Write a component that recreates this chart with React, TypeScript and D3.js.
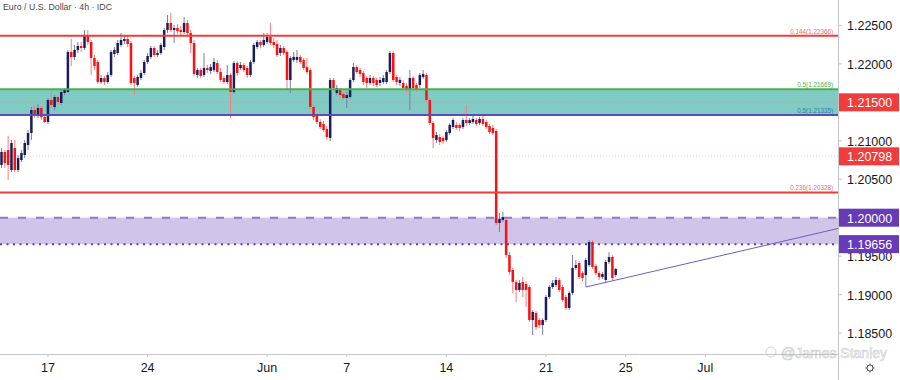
import React from 'react';
import * as d3 from 'd3';

const W = 900;
const H = 380;
const PLOT_RIGHT = 838;
const PLOT_BOTTOM = 354;

const candleStart = Date.UTC(2021, 4, 12, 16);

const opens = [
  1.20685, 1.20854, 1.20880, 1.20620, 1.20906, 1.20620, 1.20750, 1.20815, 1.20945, 1.21101,
  1.21400, 1.21335, 1.21426, 1.21309, 1.21244, 1.21530, 1.21439, 1.21569, 1.21491, 1.21621,
  1.21634, 1.22154, 1.22089, 1.22180, 1.22232, 1.22206, 1.22362, 1.22284, 1.22076, 1.22024,
  1.21764, 1.21816, 1.21764, 1.21855, 1.22128, 1.22141, 1.22245, 1.22297, 1.22323, 1.22271,
  1.21816, 1.21725, 1.21816, 1.21881, 1.22024, 1.22089, 1.22206, 1.22115, 1.22141, 1.22219,
  1.22440, 1.22531, 1.22440, 1.22466, 1.22440, 1.22414, 1.22531, 1.22401, 1.22271, 1.21855,
  1.21920, 1.21855, 1.21946, 1.21907, 1.21920, 1.22011, 1.21894, 1.21816, 1.21764, 1.21855,
  1.21634, 1.22011, 1.21946, 1.21985, 1.21946, 1.21855, 1.22024, 1.22219, 1.22284, 1.22245,
  1.22284, 1.22349, 1.22284, 1.22258, 1.22141, 1.22206, 1.22154, 1.21790, 1.22050, 1.22050,
  1.22089, 1.22050, 1.21959, 1.21920, 1.21439, 1.21322, 1.21244, 1.21218, 1.21153, 1.21036,
  1.21790, 1.21621, 1.21660, 1.21608, 1.21556, 1.21569, 1.21790, 1.21959, 1.21920, 1.21881,
  1.21816, 1.21751, 1.21816, 1.21790, 1.21751, 1.21764, 1.21764, 1.21894, 1.22141, 1.21829,
  1.21751, 1.21751, 1.21712, 1.21660, 1.21816, 1.21725, 1.21725, 1.21829, 1.21855, 1.21530,
  1.21231, 1.21010, 1.21049, 1.21036, 1.21010, 1.21101, 1.21179, 1.21205, 1.21205, 1.21179,
  1.21270, 1.21231, 1.21244, 1.21270, 1.21231, 1.21283, 1.21244, 1.21192, 1.21166, 1.21127,
  1.19931, 1.19970, 1.19970, 1.19515, 1.19320, 1.19164, 1.19060, 1.19164, 1.19138, 1.19099,
  1.18670, 1.18761, 1.18670, 1.18605, 1.18670, 1.18969, 1.19099, 1.19125, 1.19190, 1.19099,
  1.18969, 1.18826, 1.19021, 1.19346, 1.19411, 1.19281, 1.19255, 1.19385, 1.19684, 1.19372,
  1.19281, 1.19229, 1.19190, 1.19424, 1.19489, 1.19255,
];

const highs = [
  1.20906, 1.20880, 1.21062, 1.21010, 1.21010, 1.20815, 1.20880, 1.21010, 1.21140, 1.21439,
  1.21465, 1.21478, 1.21452, 1.21335, 1.21556, 1.21673, 1.21595, 1.21595, 1.21660, 1.21686,
  1.22180, 1.22323, 1.22245, 1.22284, 1.22284, 1.22440, 1.22440, 1.22310, 1.22115, 1.22050,
  1.21855, 1.21842, 1.21894, 1.22180, 1.22219, 1.22310, 1.22401, 1.22375, 1.22362, 1.22297,
  1.21842, 1.21855, 1.21920, 1.22050, 1.22141, 1.22232, 1.22232, 1.22180, 1.22271, 1.22466,
  1.22635, 1.22661, 1.22505, 1.22518, 1.22492, 1.22609, 1.22570, 1.22440, 1.22310, 1.21946,
  1.21946, 1.22141, 1.21985, 1.21998, 1.22076, 1.22050, 1.21946, 1.21842, 1.21985, 1.21881,
  1.22037, 1.22037, 1.22024, 1.22011, 1.21972, 1.22050, 1.22271, 1.22310, 1.22310, 1.22401,
  1.22401, 1.22531, 1.22336, 1.22310, 1.22245, 1.22232, 1.22180, 1.22102, 1.22154, 1.22180,
  1.22115, 1.22076, 1.22076, 1.21946, 1.21478, 1.21348, 1.21283, 1.21257, 1.21192, 1.21816,
  1.21816, 1.21725, 1.21686, 1.21634, 1.21634, 1.21816, 1.22011, 1.21985, 1.21946, 1.21907,
  1.21842, 1.21855, 1.21842, 1.21816, 1.21829, 1.21855, 1.21920, 1.22167, 1.22167, 1.21855,
  1.21829, 1.21790, 1.21751, 1.21920, 1.21842, 1.21751, 1.21881, 1.21920, 1.21881, 1.21556,
  1.21257, 1.21114, 1.21088, 1.21062, 1.21140, 1.21231, 1.21296, 1.21244, 1.21231, 1.21296,
  1.21465, 1.21296, 1.21322, 1.21296, 1.21309, 1.21348, 1.21270, 1.21218, 1.21205, 1.21153,
  1.20061, 1.20074, 1.20009, 1.19554, 1.19346, 1.19190, 1.19190, 1.19229, 1.19177, 1.19125,
  1.18800, 1.18787, 1.18696, 1.18696, 1.18995, 1.19125, 1.19190, 1.19229, 1.19216, 1.19125,
  1.18995, 1.19047, 1.19515, 1.19450, 1.19437, 1.19307, 1.19476, 1.19710, 1.19710, 1.19398,
  1.19307, 1.19294, 1.19450, 1.19554, 1.19515, 1.19346,
];

const lows = [
  1.20646, 1.20646, 1.20490, 1.20594, 1.20594, 1.20594, 1.20724, 1.20776, 1.20880, 1.21010,
  1.21296, 1.21296, 1.21270, 1.21231, 1.21218, 1.21426, 1.21400, 1.21465, 1.21465, 1.21595,
  1.21621, 1.21972, 1.22050, 1.22141, 1.22154, 1.22180, 1.22245, 1.21855, 1.21920, 1.21738,
  1.21738, 1.21725, 1.21738, 1.21829, 1.22089, 1.22115, 1.22219, 1.22258, 1.22219, 1.21725,
  1.21595, 1.21699, 1.21790, 1.21855, 1.21998, 1.22063, 1.22089, 1.22089, 1.22115, 1.22180,
  1.22401, 1.22414, 1.22271, 1.22388, 1.22375, 1.22388, 1.22375, 1.22141, 1.21842, 1.21816,
  1.21816, 1.21829, 1.21881, 1.21868, 1.21894, 1.21868, 1.21764, 1.21738, 1.21738, 1.21296,
  1.21608, 1.21842, 1.21920, 1.21894, 1.21816, 1.21829, 1.21998, 1.22193, 1.22206, 1.22219,
  1.22258, 1.22245, 1.22206, 1.22089, 1.22102, 1.22115, 1.21660, 1.21621, 1.22024, 1.22011,
  1.21998, 1.21920, 1.21868, 1.21413, 1.21270, 1.21218, 1.21153, 1.21114, 1.21010, 1.20997,
  1.21660, 1.21595, 1.21569, 1.21530, 1.21426, 1.21543, 1.21764, 1.21868, 1.21829, 1.21725,
  1.21686, 1.21725, 1.21712, 1.21699, 1.21712, 1.21738, 1.21738, 1.21868, 1.21764, 1.21725,
  1.21712, 1.21660, 1.21621, 1.21400, 1.21660, 1.21634, 1.21686, 1.21803, 1.21504, 1.21205,
  1.20906, 1.20971, 1.20945, 1.20958, 1.20984, 1.21075, 1.21153, 1.21140, 1.21127, 1.21153,
  1.21192, 1.21205, 1.21218, 1.21192, 1.21205, 1.21192, 1.21153, 1.21088, 1.21075, 1.19905,
  1.19814, 1.19944, 1.19476, 1.19255, 1.19021, 1.18904, 1.19034, 1.18969, 1.18839, 1.18644,
  1.18475, 1.18540, 1.18566, 1.18475, 1.18644, 1.18943, 1.19073, 1.19099, 1.19034, 1.18904,
  1.18800, 1.18800, 1.18995, 1.19320, 1.19203, 1.19177, 1.19099, 1.19359, 1.19333, 1.19255,
  1.19190, 1.19203, 1.19164, 1.19398, 1.19190, 1.19229,
];

const closes = [
  1.20854, 1.20711, 1.20685, 1.20971, 1.20620, 1.20776, 1.20841, 1.20971, 1.21101, 1.21400,
  1.21335, 1.21426, 1.21309, 1.21244, 1.21530, 1.21465, 1.21569, 1.21504, 1.21634, 1.21660,
  1.22154, 1.22089, 1.22180, 1.22232, 1.22206, 1.22362, 1.22284, 1.22076, 1.21972, 1.21764,
  1.21816, 1.21764, 1.21855, 1.22154, 1.22180, 1.22271, 1.22310, 1.22323, 1.22258, 1.21751,
  1.21751, 1.21829, 1.21881, 1.22024, 1.22102, 1.22206, 1.22115, 1.22141, 1.22245, 1.22440,
  1.22531, 1.22440, 1.22466, 1.22427, 1.22414, 1.22531, 1.22401, 1.22271, 1.21868, 1.21920,
  1.21842, 1.21946, 1.21920, 1.21959, 1.22024, 1.21894, 1.21790, 1.21764, 1.21855, 1.21634,
  1.22011, 1.21881, 1.21985, 1.21920, 1.21855, 1.22024, 1.22245, 1.22284, 1.22245, 1.22310,
  1.22349, 1.22271, 1.22245, 1.22115, 1.22206, 1.22141, 1.21790, 1.22076, 1.22089, 1.22089,
  1.22024, 1.21946, 1.21894, 1.21439, 1.21309, 1.21244, 1.21179, 1.21140, 1.21049, 1.21790,
  1.21686, 1.21686, 1.21595, 1.21556, 1.21595, 1.21790, 1.21959, 1.21894, 1.21868, 1.21764,
  1.21751, 1.21816, 1.21751, 1.21725, 1.21790, 1.21816, 1.21894, 1.22141, 1.21790, 1.21764,
  1.21790, 1.21686, 1.21660, 1.21816, 1.21686, 1.21660, 1.21855, 1.21868, 1.21530, 1.21231,
  1.21036, 1.21075, 1.20984, 1.20997, 1.21114, 1.21205, 1.21270, 1.21166, 1.21166, 1.21270,
  1.21231, 1.21270, 1.21283, 1.21218, 1.21283, 1.21218, 1.21179, 1.21114, 1.21101, 1.19931,
  1.19983, 1.20009, 1.19515, 1.19294, 1.19164, 1.19060, 1.19151, 1.19060, 1.19060, 1.18670,
  1.18774, 1.18579, 1.18605, 1.18670, 1.18969, 1.19099, 1.19151, 1.19190, 1.19060, 1.18930,
  1.18826, 1.19021, 1.19346, 1.19385, 1.19229, 1.19216, 1.19450, 1.19684, 1.19359, 1.19281,
  1.19229, 1.19268, 1.19424, 1.19489, 1.19216, 1.19333,
];

// x-axis ticks (dates, labels)
const tickDates = [
  Date.UTC(2021, 4, 17), Date.UTC(2021, 4, 24), Date.UTC(2021, 5, 1), Date.UTC(2021, 5, 7),
  Date.UTC(2021, 5, 14), Date.UTC(2021, 5, 21), Date.UTC(2021, 5, 25), Date.UTC(2021, 6, 1),
];
const tickLabels = ['17', '24', 'Jun', '7', '14', '21', '25', 'Jul'];

// price axis
const priceDomain = [1.18228, 1.2283];
const priceTicks = [1.185, 1.19, 1.195, 1.2, 1.205, 1.21, 1.215, 1.22, 1.225];

// fib levels
const fibPrices = [1.22366, 1.21669, 1.21335, 1.20328];
const fibRatios = ['0.144', '0.5', '0.5', '0.236'];

// zones
const tealZone = [1.21335, 1.21669];
const purpleZone = [1.19656, 1.2];

// axis badges
const badgePrices = [1.215, 1.20798, 1.2, 1.19656];
const faintLinePrices = [1.215, 1.20798];

// trendline anchors: [candle index, price]
const trendIdx = [176, 252];
const trendPrice = [1.19099, 1.1986];

const FONT = '"Liberation Sans", Arial, sans-serif';

function fmt5(p: number): string {
  const n = Math.round(p * 100000);
  return `${Math.floor(n / 100000)}.${String(n % 100000).padStart(5, '0')}`;
}

function tradingCalendar(start: number, count: number): number[] {
  const out: number[] = [];
  let t = start;
  while (out.length < count) {
    const wd = new Date(t).getUTCDay();
    if (wd !== 0 && wd !== 6) out.push(t);
    t += 4 * 3600 * 1000;
  }
  return out;
}

export default function App() {
  const calendar = tradingCalendar(candleStart, 300);
  const x = d3.scaleLinear().domain([0, 100]).range([1.5, 333.5]);
  const y = d3.scaleLinear().domain(priceDomain).range([PLOT_BOTTOM, 0]);

  const tickIdx = tickDates.map((t) => calendar.indexOf(t));

  const fibColors = ['#f26b6b', '#4caf50', '#2f7fa6', '#f26b6b'];
  const fibLineColors = ['#f23b3b', '#4caf50', '#5b4db3', '#f23b3b'];
  const badgeColors = ['#f23b3b', '#f23b3b', '#673ab7', '#673ab7'];

  const trendLine = d3.line<number>()
    .x((_, i) => x(trendIdx[i]))
    .y((d) => y(d));

  const bull = '#1b1c5c';
  const bear = '#ff1010';

  return (
    <svg width={W} height={H} style={{ position: 'absolute', left: 0, top: 0, background: '#fff' }} fontFamily={FONT}>
      <rect x={0} y={0} width={W} height={H} fill="#ffffff" />
      <defs>
        <clipPath id="plot">
          <rect x={0} y={0} width={PLOT_RIGHT} height={PLOT_BOTTOM} />
        </clipPath>
      </defs>

      <g clipPath="url(#plot)">
        <rect x={0} width={PLOT_RIGHT} y={y(tealZone[1])} height={y(tealZone[0]) - y(tealZone[1])} fill="#80cbc4" />
        <rect x={0} width={PLOT_RIGHT} y={y(purpleZone[1])} height={y(purpleZone[0]) - y(purpleZone[1])} fill="#d1c4e9" />

        {faintLinePrices.map((p, i) => (
          <line key={'f' + i} x1={0} x2={PLOT_RIGHT} y1={y(p)} y2={y(p)} stroke="#f08080" strokeOpacity={0.45} strokeWidth={1} strokeDasharray="1 2" />
        ))}

        {opens.map((o, i) => {
          const c = closes[i];
          const up = c >= o;
          const cx = x(i);
          const top = y(Math.max(o, c));
          const bot = y(Math.min(o, c));
          return (
            <g key={i}>
              <line x1={cx} x2={cx} y1={y(highs[i])} y2={y(lows[i])} stroke={up ? '#7c7ca8' : '#ff7a7a'} strokeWidth={1} />
              <rect x={cx - 1.25} width={2.5} y={top} height={Math.max(1, bot - top)} fill={up ? bull : bear} />
            </g>
          );
        })}

        <line x1={0} x2={PLOT_RIGHT} y1={y(purpleZone[1])} y2={y(purpleZone[1])} stroke="#8a7cc6" strokeWidth={2} strokeDasharray="8 10" />
        <line x1={0} x2={PLOT_RIGHT} y1={y(purpleZone[0])} y2={y(purpleZone[0])} stroke="#5e3fb0" strokeWidth={2} strokeDasharray="2 4.5" />

        {fibPrices.map((p, i) => (
          <line key={'fl' + i} x1={0} x2={PLOT_RIGHT} y1={y(p)} y2={y(p)} stroke={fibLineColors[i]} strokeWidth={2} />
        ))}
        {fibPrices.map((p, i) => (
          <text key={'ft' + i} x={833} y={y(p) - 2} textAnchor="end" fontSize={6.3} fill={fibColors[i]}>
            {`${fibRatios[i]}(${fmt5(p)})`}
          </text>
        ))}

        <path d={trendLine(trendPrice) || ''} stroke="#6a5fc8" strokeWidth={1} fill="none" />
      </g>

      <text x={3} y={9.5} fontSize={8.8} fill="#4a4a4a">Euro / U.S. Dollar · 4h · IDC</text>

      <line x1={0} x2={PLOT_RIGHT} y1={PLOT_BOTTOM + 0.5} y2={PLOT_BOTTOM + 0.5} stroke="#c4c6cc" strokeWidth={1} />
      <line x1={PLOT_RIGHT + 0.5} x2={PLOT_RIGHT + 0.5} y1={0} y2={H} stroke="#c4c6cc" strokeWidth={1} />

      {tickIdx.map((ti, k) => (
        <g key={'xt' + k}>
          <line x1={x(ti)} x2={x(ti)} y1={PLOT_BOTTOM} y2={PLOT_BOTTOM + 3} stroke="#c4c6cc" />
          <text x={x(ti)} y={368} textAnchor="middle" dominantBaseline="central" fontSize={12.5} fill="#131722">
            {tickLabels[k]}
          </text>
        </g>
      ))}

      {priceTicks.map((p, k) => (
        <g key={'yt' + k}>
          <line x1={PLOT_RIGHT} x2={PLOT_RIGHT + 4} y1={y(p)} y2={y(p)} stroke="#c4c6cc" />
          <text x={847} y={y(p) + 1} dominantBaseline="central" fontSize={12.5} fill="#131722">
            {fmt5(p)}
          </text>
        </g>
      ))}

      {badgePrices.map((p, k) => (
        <g key={'b' + k}>
          <rect x={PLOT_RIGHT + 1} y={y(p) - 9} width={W - PLOT_RIGHT - 2} height={18} fill={badgeColors[k]} />
          <text x={847} y={y(p) + 1} dominantBaseline="central" fontSize={12.5} fill="#ffffff">
            {fmt5(p)}
          </text>
        </g>
      ))}

      <g opacity={0.6}>
        <circle cx={771} cy={352} r={5} fill="none" stroke="#b8b8b8" strokeWidth={1} />
        <text x={781} y={353} dominantBaseline="central" fontSize={14} fill="none" stroke="#a8a8a8" strokeWidth={0.6}>
          @James Stanley
        </text>
      </g>

      <g transform="translate(870,368)" stroke="#555" fill="none" strokeWidth={1}>
        <circle r={3} />
        {d3.range(8).map((k) => {
          const a = (k * Math.PI) / 4;
          return <line key={k} x1={Math.cos(a) * 3} y1={Math.sin(a) * 3} x2={Math.cos(a) * 4.6} y2={Math.sin(a) * 4.6} />;
        })}
      </g>
    </svg>
  );
}
